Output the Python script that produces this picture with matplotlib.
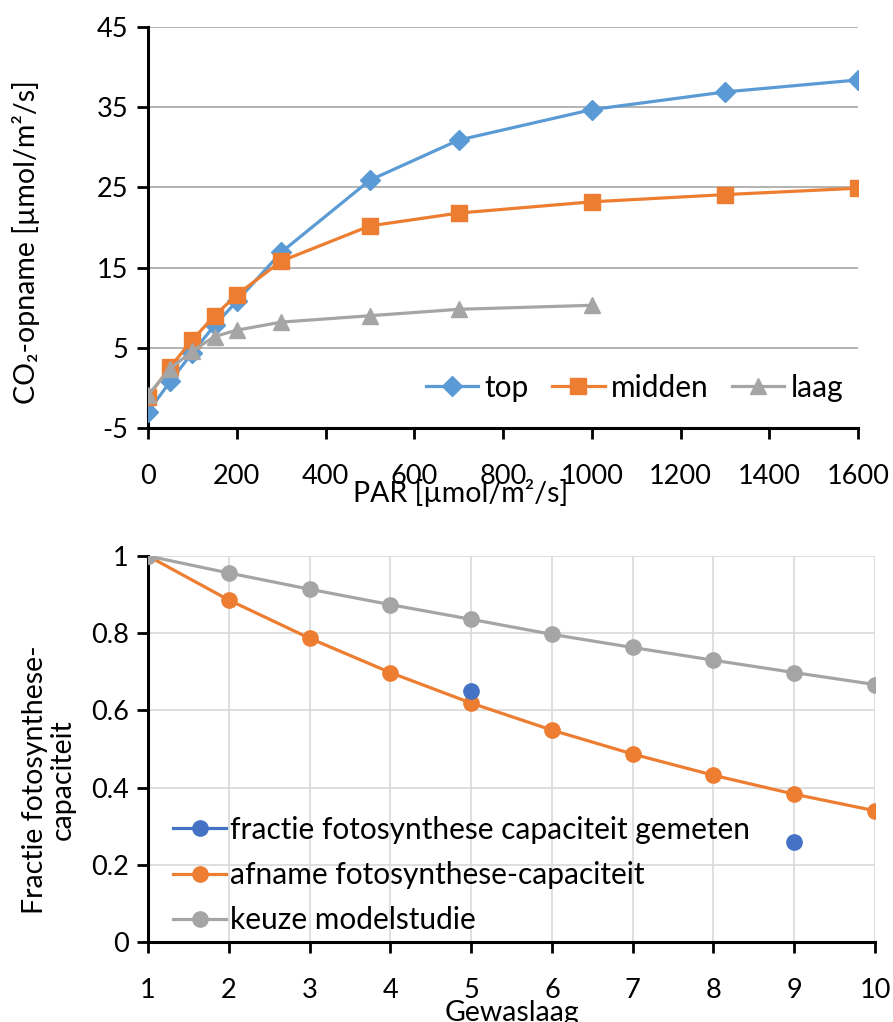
import matplotlib
matplotlib.use("Agg")
import matplotlib.pyplot as plt
from matplotlib.lines import Line2D

plt.rcParams['font.family'] = ['Lato', 'DejaVu Sans']

# ---- data: top chart ----
par = [0, 50, 100, 150, 200, 300, 500, 700, 1000, 1300, 1600]
co2_top = [-3.0, 0.8, 4.4, 7.8, 10.8, 16.9, 25.9, 30.9, 34.7, 36.9, 38.4]
co2_midden = [-1.1, 2.6, 6.0, 9.0, 11.6, 15.8, 20.2, 21.8, 23.2, 24.1, 24.9]
par_laag = [0, 50, 100, 150, 200, 300, 500, 700, 1000]
co2_laag = [-0.9, 2.4, 4.6, 6.4, 7.2, 8.2, 9.0, 9.8, 10.3]
top_yticks = [-5, 5, 15, 25, 35, 45]
top_xticks = [0, 200, 400, 600, 800, 1000, 1200, 1400, 1600]

# ---- data: bottom chart ----
laag_nr = [1, 2, 3, 4, 5, 6, 7, 8, 9, 10]
afname = [1.0, 0.886, 0.787, 0.698, 0.619, 0.549, 0.487, 0.432, 0.383, 0.340]
keuze = [1.0, 0.956, 0.914, 0.874, 0.836, 0.797, 0.763, 0.730, 0.698, 0.667]
gemeten_x = [5, 9]
gemeten_y = [0.65, 0.26]
bot_yticks = [0, 0.2, 0.4, 0.6, 0.8, 1]

BLUE = '#5B9BD5'
ORANGE = '#ED7D31'
GRAY = '#A5A5A5'
DBLUE = '#4472C4'
FS_TICK = 19.5
FS_LAB = 20.5
FS_LEG = 21.5

W, H = 893, 1022
fig = plt.figure(figsize=(W / 100, H / 100), dpi=100)

def ax_rect(l, r, t, b):
    return [l / W, 1 - b / H, (r - l) / W, (b - t) / H]

# ---------- top ----------
ax1 = fig.add_axes(ax_rect(148, 858, 27, 428))
ax1.plot(par, co2_top, color=BLUE, lw=2.3, marker='D', ms=10, label='top', zorder=3)
ax1.plot(par, co2_midden, color=ORANGE, lw=2.3, marker='s', ms=12, label='midden', zorder=3)
ax1.plot(par_laag, co2_laag, color=GRAY, lw=2.3, marker='^', ms=12, label='laag', zorder=3)
ax1.set_xlim(0, 1600)
ax1.set_ylim(-5, 45)
ax1.set_yticks(top_yticks)
ax1.set_yticklabels([str(v) for v in top_yticks])
ax1.set_xticks(top_xticks)
ax1.set_xticklabels([str(v) for v in top_xticks])
ax1.yaxis.grid(True, color='#A6A6A6', lw=1.2)
ax1.set_axisbelow(True)
for s in ['top', 'right']:
    ax1.spines[s].set_visible(False)
for s in ['left', 'bottom']:
    ax1.spines[s].set_linewidth(2.2)
    ax1.spines[s].set_color('black')
ax1.tick_params(axis='both', labelsize=FS_TICK, width=2.0, length=8, direction='out')
ax1.tick_params(axis='x', pad=18)
ax1.tick_params(axis='y', pad=6)
ax1.set_xlabel('PAR [µmol/m²/s]', fontsize=FS_LAB)
ax1.xaxis.set_label_coords(0.44, -0.128)
ax1.set_ylabel('CO₂-opname [µmol/m²/s]', fontsize=FS_LAB)
ax1.yaxis.set_label_coords(-0.152, 0.464)
ax1.legend(loc='center right', bbox_to_anchor=(0.979, 0.1), ncol=3, frameon=False,
           fontsize=FS_LEG, handlelength=1.75, columnspacing=0.8, handletextpad=0.2,
           borderaxespad=0, borderpad=0)

# ---------- bottom ----------
ax2 = fig.add_axes(ax_rect(148, 875, 556, 942))
ax2.plot(gemeten_x, gemeten_y, color=DBLUE, lw=0, marker='o', ms=11, zorder=4)
ax2.plot(laag_nr, afname, color=ORANGE, lw=2.3, marker='o', ms=11, zorder=3)
ax2.plot(laag_nr, keuze, color=GRAY, lw=2.3, marker='o', ms=11, zorder=3)
ax2.set_xlim(1, 10)
ax2.set_ylim(0, 1)
ax2.set_xticks(laag_nr)
ax2.set_xticklabels([str(v) for v in laag_nr])
ax2.set_yticks(bot_yticks)
ax2.set_yticklabels(['0', '0.2', '0.4', '0.6', '0.8', '1'])
ax2.grid(True, color='#D9D9D9', lw=1.2)
ax2.set_axisbelow(True)
for s in ['top', 'right']:
    ax2.spines[s].set_visible(False)
for s in ['left', 'bottom']:
    ax2.spines[s].set_linewidth(2.2)
    ax2.spines[s].set_color('black')
ax2.tick_params(axis='both', labelsize=FS_TICK, width=2.0, length=8, direction='out')
ax2.tick_params(axis='x', pad=18)
ax2.tick_params(axis='y', pad=6)
ax2.set_xlabel('Gewaslaag', fontsize=FS_LAB)
ax2.xaxis.set_label_coords(0.5, -0.15)
ax2.set_ylabel('Fractie fotosynthese-\ncapaciteit', fontsize=FS_LAB, linespacing=1.1)
ax2.yaxis.set_label_coords(-0.099, 0.42)
handles = [
    Line2D([], [], color=DBLUE, lw=2.3, marker='o', ms=11),
    Line2D([], [], color=ORANGE, lw=2.3, marker='o', ms=11),
    Line2D([], [], color=GRAY, lw=2.3, marker='o', ms=11),
]
labels = ['fractie fotosynthese capaciteit gemeten',
          'afname fotosynthese-capaciteit',
          'keuze modelstudie']
ax2.legend(handles, labels, loc='lower left', bbox_to_anchor=(0.035, 0.02), frameon=False,
           fontsize=FS_LEG, handlelength=1.75, handletextpad=0.15, labelspacing=0.58,
           borderaxespad=0, borderpad=0)

fig.savefig('out.png', dpi=100)
